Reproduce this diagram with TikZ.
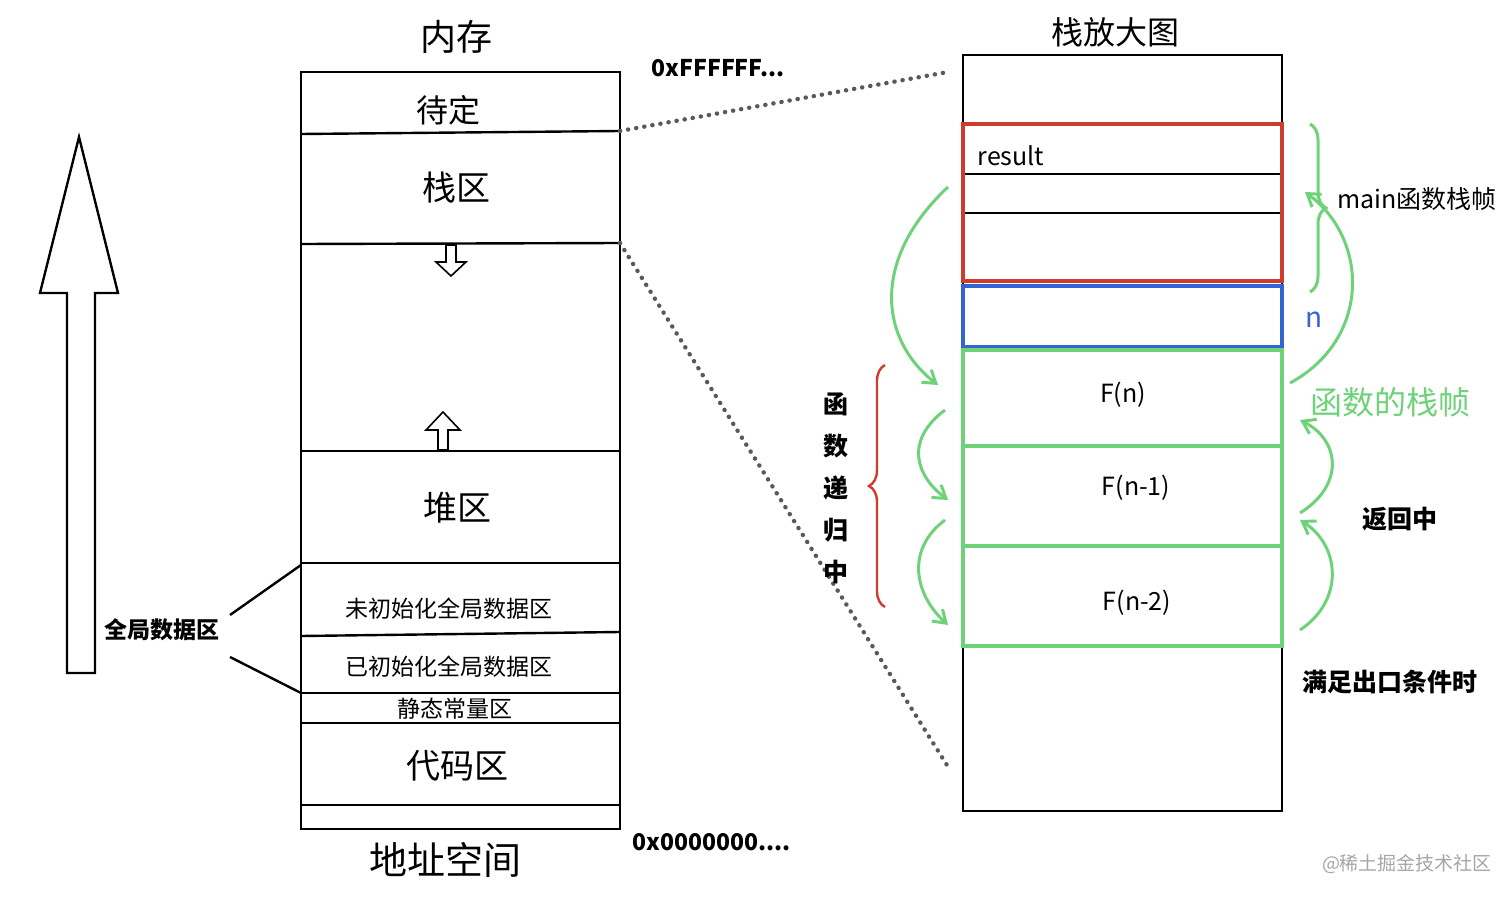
\documentclass[tikz,border=0pt]{standalone}
\usepackage{fontspec}
\setmainfont{Noto Sans CJK SC}
\usetikzlibrary{decorations.pathreplacing,arrows.meta}
\definecolor{gr}{RGB}{110,210,120}
\definecolor{rd}{RGB}{205,60,45}
\definecolor{bl}{RGB}{50,100,210}
\begin{document}
\begin{tikzpicture}[x=0.5pt,y=-0.5pt,line width=1.2pt,
 lab/.style={inner sep=0pt},
 garr/.style={gr,line width=1.5pt,-{Straight Barb[length=6pt,width=8pt]}},
 dotl/.style={line width=2.2pt,gray!70!black,dash pattern=on 0.1pt off 4pt,line cap=round}]
\useasboundingbox (0,0) rectangle (1512,899);
% left memory
\draw (301,72) rectangle (620,829);
\coordinate (s1) at (620,131); \coordinate (s2) at (620,243);
\draw (301,134) -- (s1);
\draw (301,244) -- (s2);
\foreach \y in {451,563,693,723,805} \draw (301,\y) -- (620,\y);
\draw (301,636) -- (620,632);
\node[lab,font=\fontsize{18}{18}\selectfont] (t0) at (456,37) {内存};
\node[lab,font=\fontsize{16}{16}\selectfont] (t1) at (448,110) {待定};
\node[lab,font=\fontsize{17}{17}\selectfont] (t2) at (456,188) {栈区};
\node[lab,font=\fontsize{17}{17}\selectfont] (t3) at (457,508) {堆区};
\node[lab,font=\fontsize{11.5}{12}\selectfont] (t4) at (449,609) {未初始化全局数据区};
\node[lab,font=\fontsize{11.5}{12}\selectfont] (t5) at (449,667) {已初始化全局数据区};
\node[lab,font=\fontsize{11.5}{12}\selectfont] (t6) at (455,709) {静态常量区};
\node[lab,font=\fontsize{17}{17}\selectfont] (t7) at (457,766) {代码区};
\node[lab,font=\fontsize{19}{19}\selectfont] (t8) at (445,860) {地址空间};
% small hollow arrows
\draw[line width=0.8pt] (446,245) -- (456,245) -- (456,262) -- (466,262) -- (451,276) -- (436,262) -- (446,262) -- cycle;
\draw[line width=0.8pt] (438,450) -- (448,450) -- (448,430) -- (460,430) -- (443,412) -- (426,430) -- (438,430) -- cycle;
% big arrow
\draw (67,673) -- (95,673) -- (95,293) -- (118,293) -- (79,137) -- (40,293) -- (67,293) -- cycle;
\node[lab,font=\bfseries\fontsize{11.5}{12}\selectfont] (gq) at (162,630) {全局数据区};
\coordinate (g1) at (301,565); \coordinate (g2) at (301,693);
\draw (230,615) -- (g1);
\draw (230,657) -- (g2);
\node[lab,font=\bfseries\fontsize{11.5}{12}\selectfont] (hi) at (718,68) {0xFFFFFF...};
\node[lab,font=\bfseries\fontsize{11.5}{12}\selectfont] (lo) at (712,842) {0x0000000....};
% right stack
\draw (963,55) rectangle (1282,811);
\coordinate (r1) at (948,72); \coordinate (r2) at (950,770);
\draw[dotl] (s1) -- (r1);
\draw[dotl] (s2) -- (r2);
\node[lab,font=\fontsize{16}{16}\selectfont] (zt) at (1115,32) {栈放大图};
\draw (963,174) -- (1282,174); \draw (963,213) -- (1282,213);
\draw[rd,line width=1.6pt] (963,124) rectangle (1282,281);
\draw[bl,line width=1.6pt] (963,286) rectangle (1282,347);
\draw[gr,line width=1.6pt] (963,350) rectangle (1282,646);
\draw[gr,line width=1.6pt] (963,446) -- (1282,446) (963,546) -- (1282,546);
\node[lab,font=\fontsize{12.5}{13}\selectfont] (res) at (1011,156) {result};
\node[lab,font=\fontsize{12.5}{13}\selectfont] (f0) at (1123,395) {F(n)};
\node[lab,font=\fontsize{12.5}{13}\selectfont] (f1) at (1136,488) {F(n-1)};
\node[lab,font=\fontsize{12.5}{13}\selectfont] (f2) at (1137,603) {F(n-2)};
\node[lab,bl,font=\fontsize{14}{14}\selectfont] (nn) at (1314,320) {n};
\node[lab,font=\fontsize{12.5}{13}\selectfont] (mf) at (1417,199) {main函数栈帧};
\node[lab,gr,font=\fontsize{16}{16}\selectfont] (hf) at (1390,402) {函数的栈帧};
\node[lab,font=\bfseries\fontsize{12.5}{13}\selectfont] (fh) at (1400,519) {返回中};
\node[lab,font=\bfseries\fontsize{12.5}{13}\selectfont] (mz) at (1390,682) {满足出口条件时};
\node[lab,font=\bfseries\fontsize{12.5}{13}\selectfont,align=center] (dg) at (836,488) {函\\[8pt]数\\[8pt]递\\[8pt]归\\[8pt]中};
\node[lab,gray!70,font=\fontsize{9.5}{10}\selectfont] (wm) at (1407,864) {@稀土掘金技术社区};
% braces
\draw[gr,line width=1.5pt,decorate,decoration={brace,amplitude=8pt}] (1310,124) -- (1310,292);
\draw[rd,line width=1.2pt,decorate,decoration={brace,amplitude=8pt,mirror}] (885,365) -- (885,607);
% green arrows
\draw[garr] (948,187) .. controls (870,260) and (880,340) .. (938,385);
\draw[garr] (945,410) .. controls (905,440) and (915,475) .. (948,500);
\draw[garr] (945,520) .. controls (905,550) and (915,595) .. (948,625);
\draw[garr] (1300,630) .. controls (1345,600) and (1340,545) .. (1300,520);
\draw[garr] (1300,513) .. controls (1345,485) and (1340,440) .. (1300,420);
\draw[garr] (1290,383) .. controls (1370,340) and (1370,240) .. (1305,192);
\end{tikzpicture}
\end{document}
